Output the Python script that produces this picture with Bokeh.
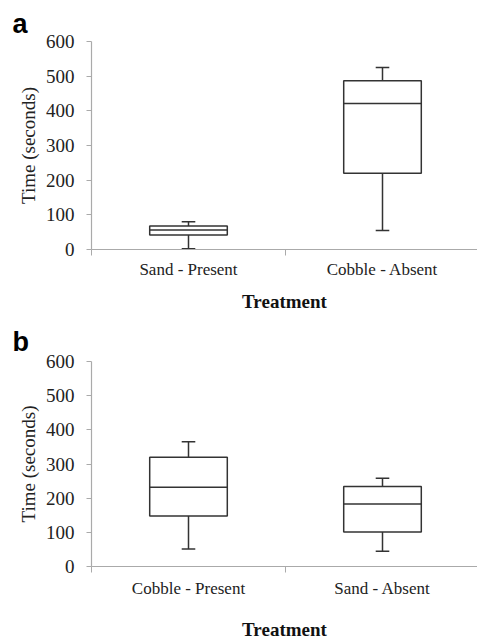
from bokeh.plotting import figure
from bokeh.models import Range1d, FixedTicker, ColumnDataSource, Title
from bokeh.layouts import column
from bokeh.embed import file_html
from bokeh.resources import INLINE

# ---- data ----
cats_a = ["Sand - Present", "Cobble - Absent"]
a_low = [2, 55]
a_q1 = [42, 220]
a_med = [56, 421]
a_q3 = [68, 487]
a_high = [80, 525]

cats_b = ["Cobble - Present", "Sand - Absent"]
b_low = [51, 45]
b_q1 = [148, 101]
b_med = [232, 183]
b_q3 = [320, 234]
b_high = [365, 258]

y_ticks = [0, 100, 200, 300, 400, 500, 600]
x_title = "Treatment"
y_title = "Time (seconds)"

SERIF = "Liberation Serif"
BOX_W = 0.4
CAP_W = 0.035
LINE = "#333333"
AXIS = "#aaaaaa"
FRAME_W = 386
CAT_PX = 194


def make_panel(letter, cats, low, q1, med, q3, high, top, frame_h, label_standoff,
               title_standoff, letter_standoff):
    n = len(cats)
    xs = [i + 0.5 for i in range(n)]
    p = figure(frame_width=FRAME_W, frame_height=frame_h, output_backend="svg", toolbar_location=None,
               x_range=Range1d(0, FRAME_W / CAT_PX), y_range=Range1d(y_ticks[0], y_ticks[-1]),
               min_border_left=91, min_border_right=0, min_border_top=top,
               min_border_bottom=0)
    p.outline_line_color = None
    p.grid.visible = False
    p.background_fill_color = "white"
    p.border_fill_color = "white"

    src = ColumnDataSource(dict(
        x=xs,
        left=[x - BOX_W / 2 for x in xs], right=[x + BOX_W / 2 for x in xs],
        cl=[x - CAP_W for x in xs], cr=[x + CAP_W for x in xs],
        low=low, q1=q1, med=med, q3=q3, high=high))
    # whiskers
    p.segment(x0="x", y0="q3", x1="x", y1="high", source=src, line_color=LINE, line_width=1.5)
    p.segment(x0="x", y0="low", x1="x", y1="q1", source=src, line_color=LINE, line_width=1.5)
    p.segment(x0="cl", y0="high", x1="cr", y1="high", source=src, line_color=LINE, line_width=1.5)
    p.segment(x0="cl", y0="low", x1="cr", y1="low", source=src, line_color=LINE, line_width=1.5)
    # boxes
    p.quad(left="left", right="right", bottom="q1", top="q3", source=src,
           fill_color="white", line_color=LINE, line_width=1.5)
    p.segment(x0="left", y0="med", x1="right", y1="med", source=src, line_color=LINE, line_width=1.5)

    # x axis
    xa = p.xaxis[0]
    xa.ticker = FixedTicker(ticks=xs, minor_ticks=[float(i) for i in range(n + 1)])
    xa.major_label_overrides = {x: c for x, c in zip(xs, cats)}
    xa.major_tick_out = 0
    xa.major_tick_in = 0
    xa.minor_tick_out = 6
    xa.minor_tick_in = 0
    xa.minor_tick_line_color = AXIS
    xa.axis_line_color = AXIS
    xa.axis_line_width = 1.2
    xa.major_label_text_font = SERIF
    xa.major_label_text_font_size = "17px"
    xa.major_label_text_color = "#222222"
    xa.major_label_standoff = label_standoff
    xa.axis_label = x_title
    xa.axis_label_text_font = SERIF
    xa.axis_label_text_font_style = "bold"
    xa.axis_label_text_font_size = "19px"
    xa.axis_label_text_color = "#111111"
    xa.axis_label_standoff = title_standoff

    # y axis
    ya = p.yaxis[0]
    ya.ticker = FixedTicker(ticks=y_ticks)
    ya.minor_tick_line_color = None
    ya.major_tick_out = 5
    ya.major_tick_in = 0
    ya.major_tick_line_color = AXIS
    ya.axis_line_color = AXIS
    ya.axis_line_width = 1.2
    ya.major_label_text_font = SERIF
    ya.major_label_text_font_size = "19px"
    ya.major_label_text_color = "#222222"
    ya.major_label_standoff = 12
    ya.axis_label = y_title
    ya.axis_label_text_font = SERIF
    ya.axis_label_text_font_style = "normal"
    ya.axis_label_text_font_size = "19px"
    ya.axis_label_text_color = "#222222"
    ya.axis_label_standoff = 4

    t = Title(text=letter, text_font="Liberation Sans", text_font_style="bold",
              text_font_size="27px", align="left", offset=-79, text_color="black",
              standoff=letter_standoff)
    p.add_layout(t, "above")
    return p


pa = make_panel("a", cats_a, a_low, a_q1, a_med, a_q3, a_high,
                top=41, frame_h=208, label_standoff=4, title_standoff=9, letter_standoff=6)
pb = make_panel("b", cats_b, b_low, b_q1, b_med, b_q3, b_high,
                top=47, frame_h=205, label_standoff=6, title_standoff=18, letter_standoff=10)

layout = column(pa, pb, spacing=0)
open("out.html", "w").write(file_html(layout, INLINE))
